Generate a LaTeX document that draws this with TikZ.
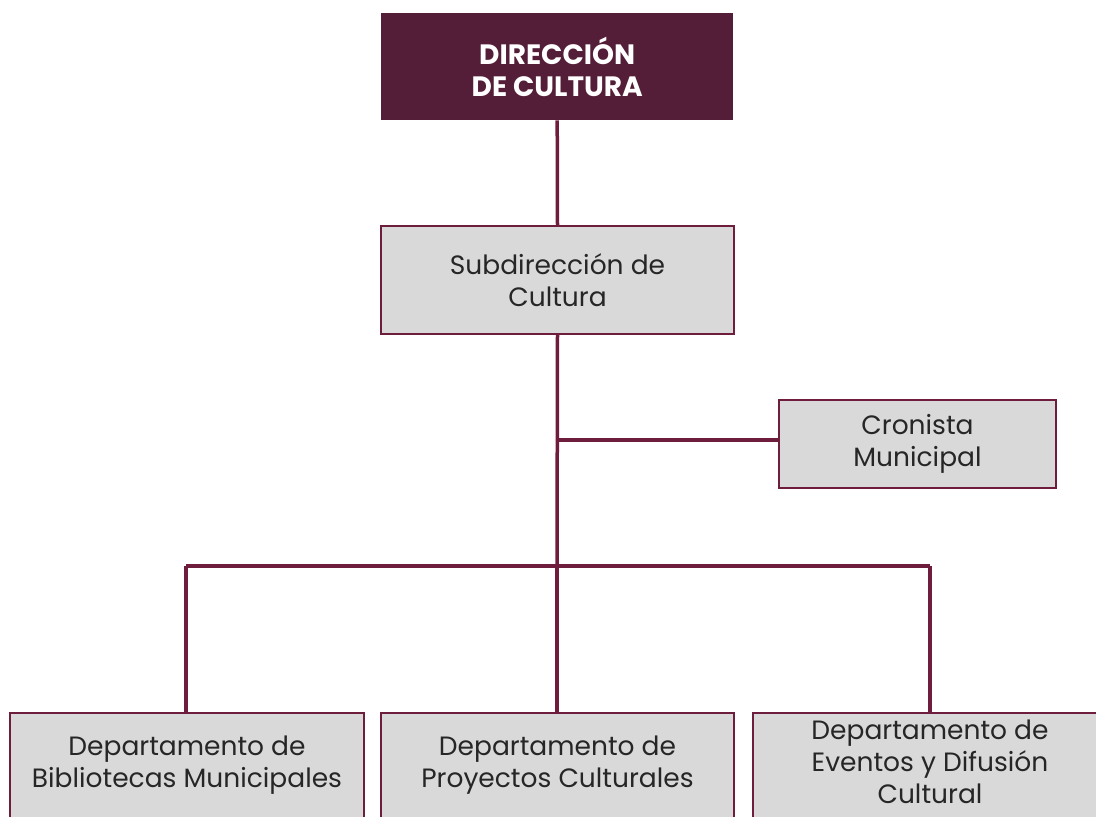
\documentclass[tikz,border=0pt]{standalone}
\usepackage{fontspec}
\setmainfont{Poppins}
\definecolor{maroon}{HTML}{541E38}
\definecolor{edge}{HTML}{6E1E3C}
\definecolor{boxgray}{HTML}{D9D9D9}
\begin{document}
\begin{tikzpicture}[x=1pt,y=-1pt,
  unit/.style={draw=edge,line width=2pt,fill=boxgray,anchor=north west,inner sep=0pt,
    font=\fontsize{26.5}{32}\selectfont,align=center,text=black!85},
  lbl/.style={font=\fontsize{26.5}{32}\selectfont,align=center,text=black!85,anchor=north},
  conn/.style={draw=edge,line width=3.5pt}]
\useasboundingbox (0,0) rectangle (1096,817);
\clip (0,0) rectangle (1096,817);
% top
\node[fill=maroon,anchor=north west,minimum width=352pt,minimum height=107pt,inner sep=0pt,
  text=white,font=\fontsize{28}{32}\selectfont\bfseries,align=center] (dir) at (381,13)
  {DIRECCIÓN\\DE CULTURA};
\node[unit,minimum width=353pt,minimum height=108pt] (sub) at (380,225) {Subdirección de\\Cultura};
\node[unit,minimum width=277pt,minimum height=88pt] (cron) at (778,399) {Cronista\\Municipal};
\node[unit,minimum width=354pt,minimum height=130pt] (d1) at (9,712) {};
\node[unit,minimum width=353pt,minimum height=130pt] (d2) at (380,712) {};
\node[unit,minimum width=360pt,minimum height=130pt] (d3) at (752,712) {};
\node[lbl] (t1) at (d1.north) [yshift=-20pt] {Departamento de\\Bibliotecas Municipales};
\node[lbl] (t2) at (d2.north) [yshift=-20pt] {Departamento de\\Proyectos Culturales};
\node[lbl] (t3) at (930,712) [yshift=-4pt] {Departamento de\\Eventos y Difusión\\Cultural};
\coordinate (j1) at (557,440);
\coordinate (j2) at (557,566);
\coordinate (l) at (186,566);
\coordinate (r) at (930,566);
\draw[conn] (dir.south) -- (sub.north);
\draw[conn] (sub.south) -- (j2);
\draw[conn] (j1) -- (j1 -| cron.west);
\draw[conn] (l) -- (r);
\draw[conn] (l) -- (l |- d1.north);
\draw[conn] (j2) -- (j2 |- d2.north);
\draw[conn] (r) -- (r |- d3.north);
\end{tikzpicture}
\end{document}
